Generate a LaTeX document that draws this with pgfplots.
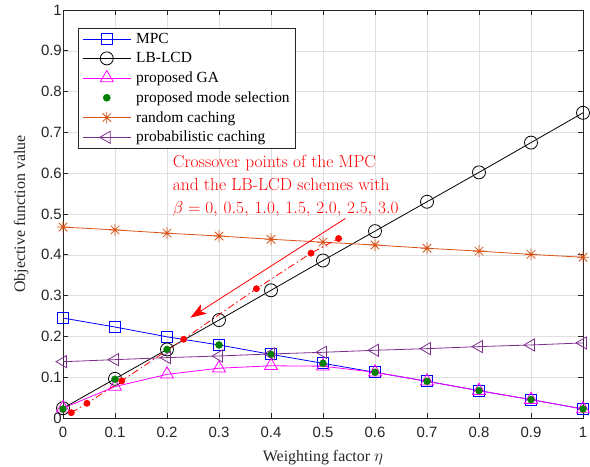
\documentclass[border=0pt]{standalone}
\usepackage{pgfplots}
\pgfplotsset{compat=1.18}
\usepackage{fontspec}
\setmainfont{Liberation Serif}
\newfontfamily\ticksans{Liberation Sans}
\usetikzlibrary{arrows.meta}
\definecolor{mblue}{rgb}{0,0,1}
\definecolor{mmag}{rgb}{1,0,1}
\definecolor{mgreen}{rgb}{0,0.5,0}
\definecolor{morange}{rgb}{0.85,0.325,0.098}
\definecolor{mpurple}{rgb}{0.494,0.184,0.556}
\definecolor{axgray}{rgb}{0.15,0.15,0.15}
\pgfdeclareplotmark{mstar}{%
  \pgfpathmoveto{\pgfqpoint{-\pgfplotmarksize}{0pt}}\pgfpathlineto{\pgfqpoint{\pgfplotmarksize}{0pt}}%
  \pgfpathmoveto{\pgfqpoint{0pt}{-\pgfplotmarksize}}\pgfpathlineto{\pgfqpoint{0pt}{\pgfplotmarksize}}%
  \pgfpathmoveto{\pgfqpoint{-0.707\pgfplotmarksize}{-0.707\pgfplotmarksize}}\pgfpathlineto{\pgfqpoint{0.707\pgfplotmarksize}{0.707\pgfplotmarksize}}%
  \pgfpathmoveto{\pgfqpoint{-0.707\pgfplotmarksize}{0.707\pgfplotmarksize}}\pgfpathlineto{\pgfqpoint{0.707\pgfplotmarksize}{-0.707\pgfplotmarksize}}%
  \pgfusepathqstroke}
\begin{document}
\begin{tikzpicture}
\begin{axis}[
  at={(0,0)}, anchor=south west,
  scale only axis, width=520bp, height=408bp,
  xmin=0, xmax=1, ymin=0, ymax=1,
  xtick={0,0.1,...,1}, ytick={0,0.1,...,1},
  xticklabels={0,0.1,0.2,0.3,0.4,0.5,0.6,0.7,0.8,0.9,1},
  yticklabels={0,0.1,0.2,0.3,0.4,0.5,0.6,0.7,0.8,0.9,1},
  tick align=inside, major tick length=5bp,
  tick style={axgray, line width=0.6bp},
  axis line style={axgray, line width=0.6bp},
  grid=major, grid style={gray!25, line width=0.5bp},
  /pgf/number format/assume math mode=true,
  ticklabel style={font=\ticksans\fontsize{15}{18}\selectfont, text=axgray, inner sep=1bp},
  xticklabel style={yshift=-8bp},
  xlabel={Weighting factor $\eta$},
  ylabel={Objective function value},
  label style={font=\fontsize{16}{19}\selectfont, text=axgray},
  xlabel style={yshift=-8bp},
  ylabel style={yshift=8bp},
  legend style={at={(rel axis cs:0.029,0.956)}, anchor=north west,
    font=\fontsize{15.5}{18}\selectfont, draw=axgray, line width=0.6bp,
    row sep=3.6bp, inner sep=3bp, inner xsep=4bp},
  legend cell align=left,
  legend image code/.code={
    \draw[mark repeat=2,mark phase=2] plot coordinates {(4bp,0bp) (28bp,0bp) (52bp,0bp)};
    \path (55bp,0bp);},
]
\addplot[mblue, line width=0.8bp, mark=square, mark size=5.5bp, mark options={solid}] coordinates {
(0,0.245) (0.1,0.223) (0.2,0.199) (0.3,0.179) (0.4,0.156) (0.5,0.134) (0.6,0.112) (0.7,0.090) (0.8,0.067) (0.9,0.045) (1,0.022)};
\addlegendentry{MPC}
\addplot[black, line width=0.8bp, mark=o, mark size=6.5bp] coordinates {
(0,0.024) (0.1,0.096) (0.2,0.168) (0.3,0.240) (0.4,0.313) (0.5,0.386) (0.6,0.458) (0.7,0.530) (0.8,0.602) (0.9,0.675) (1,0.748)};
\addlegendentry{LB-LCD}
\addplot[mmag, line width=0.8bp, mark=triangle, mark size=7.5bp] coordinates {
(0,0.024) (0.1,0.077) (0.2,0.107) (0.3,0.122) (0.4,0.128) (0.5,0.127) (0.6,0.112) (0.7,0.090) (0.8,0.067) (0.9,0.045) (1,0.022)};
\addlegendentry{proposed GA}
\addplot[only marks, mgreen, mark=*, mark size=3.5bp] coordinates {
(0,0.022) (0.1,0.095) (0.2,0.168) (0.3,0.179) (0.4,0.156) (0.5,0.134) (0.6,0.112) (0.7,0.090) (0.8,0.067) (0.9,0.045) (1,0.022)};
\addlegendentry{proposed mode selection}
\addplot[morange, line width=0.8bp, mark=mstar, mark size=6bp] coordinates {
(0,0.468) (0.1,0.461) (0.2,0.453) (0.3,0.446) (0.4,0.438) (0.5,0.431) (0.6,0.424) (0.7,0.416) (0.8,0.409) (0.9,0.401) (1,0.394)};
\addlegendentry{random caching}
\addplot[mpurple, line width=0.8bp, mark=triangle, mark size=7bp, mark options={rotate=90}] coordinates {
(0,0.138) (0.1,0.143) (0.2,0.148) (0.3,0.152) (0.4,0.157) (0.5,0.161) (0.6,0.166) (0.7,0.170) (0.8,0.175) (0.9,0.179) (1,0.184)};
\addlegendentry{probabilistic caching}
\addplot[red, line width=0.8bp, dash pattern=on 7bp off 3bp on 1.5bp off 3bp, mark=*, mark size=3bp, mark options={solid}, forget plot] coordinates {
(0.016,0.013) (0.046,0.036) (0.113,0.091) (0.232,0.193) (0.372,0.317) (0.477,0.404) (0.530,0.440)};
\draw[red, line width=0.8bp, -{Stealth[length=16bp,width=11bp,inset=4bp]}] (axis cs:0.543,0.489) -- (axis cs:0.245,0.246);
\node[red, anchor=north west, align=left, font=\fontsize{17.5}{23}\usefont{TU}{lmr}{m}{n}, inner sep=0pt] at (axis cs:0.211,0.645)
  {Crossover points of the MPC\\and the LB-LCD schemes with\\$\beta=0,\,0.5,\,1.0,\,1.5,\,2.0,\,2.5,\,3.0$};
\end{axis}
\pgfresetboundingbox
\path[use as bounding box] (-63bp,-49bp) rectangle (527bp,418bp);
\end{tikzpicture}
\end{document}
